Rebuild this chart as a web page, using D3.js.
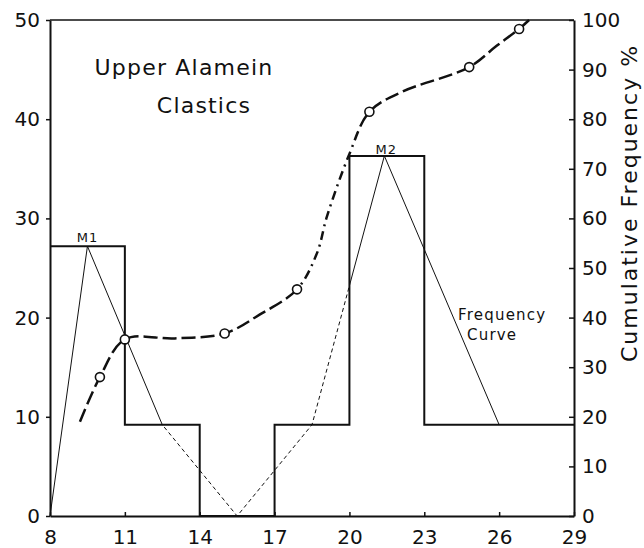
<!DOCTYPE html>
<html>
<head>
<meta charset="utf-8">
<script src="https://cdn.jsdelivr.net/npm/d3@7"></script>
<style>
  body { margin: 0; background: #fff; }
  text { font-family: "DejaVu Sans", sans-serif; fill: #111; }
</style>
</head>
<body>
<div id="chart"></div>
<script>
// histogram classes (left axis, frequency)
var classEdges = [8, 11, 14, 17, 20, 23, 26, 29];
var classFreq = [27.2, 9.2, 0, 9.2, 36.3, 9.2, 9.2];

// frequency curve (polygon through the modes)
var polyX = [8, 9.5, 12.5, 15.5, 18.5, 21.4, 26];
var polyY = [0, 27.2, 9.2, 0, 9.2, 36.3, 9.2];

// cumulative frequency % - traced curve
var cumX = [9.2, 10, 11, 13, 15, 16.4, 17.9, 18.7, 19.1, 20, 20.8, 22.1, 24.8, 25.9, 26.8, 27.2];
var cumY = [19, 28, 35.6, 35.8, 36.8, 40.6, 45.7, 53, 60.4, 73, 81.5, 85.5, 90.5, 94.8, 98.2, 100];

// cumulative frequency % - plotted points
var ptX = [10, 11, 15, 17.9, 20.8, 24.8, 26.8];
var ptY = [28, 35.6, 36.8, 45.7, 81.5, 90.5, 98.2];

var xTicks = [8, 11, 14, 17, 20, 23, 26, 29];
var leftTicks = [0, 10, 20, 30, 40, 50];
var rightTicks = [0, 10, 20, 30, 40, 50, 60, 70, 80, 90, 100];

var W = 644, H = 548;
var margin = {top: 20, right: 70, bottom: 32, left: 50};

var svg = d3.select("#chart").append("svg")
    .attr("width", W)
    .attr("height", H);

var x = d3.scaleLinear().domain([8, 29]).range([margin.left, W - margin.right]);
var y = d3.scaleLinear().domain([0, 50]).range([H - margin.bottom, margin.top]);
var y2 = d3.scaleLinear().domain([0, 100]).range([H - margin.bottom, margin.top]);

// clip regions for the changing line styles
var defs = svg.append("defs");
function clip(id, ranges) {
  var c = defs.append("clipPath").attr("id", id);
  ranges.forEach(function(r) {
    c.append("rect").attr("x", x(r[0])).attr("y", 0)
      .attr("width", x(r[1]) - x(r[0])).attr("height", H);
  });
}
clip("cumSolid", [[7, 17.9], [20.3, 30]]);
clip("cumDot", [[17.9, 20.3]]);
clip("polySolid", [[7, 12.5], [20, 30]]);
clip("polyDot", [[12.5, 20]]);

// top border
svg.append("line")
    .attr("x1", x(8)).attr("x2", x(29))
    .attr("y1", y(50)).attr("y2", y(50))
    .attr("stroke", "#111").attr("stroke-width", 1.5);

// histogram outline
var stepPts = classEdges.map(function(e, i) {
  return [e, i < classFreq.length ? classFreq[i] : classFreq[classFreq.length - 1]];
});
svg.append("path")
    .datum(stepPts)
    .attr("fill", "none")
    .attr("stroke", "#111")
    .attr("stroke-width", 2)
    .attr("d", d3.line().curve(d3.curveStepAfter)
      .x(function(d) { return x(d[0]); })
      .y(function(d) { return y(d[1]); }));

// frequency curve
var polyPts = polyX.map(function(v, i) { return [v, polyY[i]]; });
var polyLine = d3.line()
    .x(function(d) { return x(d[0]); })
    .y(function(d) { return y(d[1]); });
svg.append("path")
    .datum(polyPts)
    .attr("clip-path", "url(#polySolid)")
    .attr("fill", "none").attr("stroke", "#111").attr("stroke-width", 1)
    .attr("d", polyLine);
svg.append("path")
    .datum(polyPts)
    .attr("clip-path", "url(#polyDot)")
    .attr("fill", "none").attr("stroke", "#111").attr("stroke-width", 1)
    .attr("stroke-dasharray", "4,3")
    .attr("d", polyLine);

// cumulative curve
var cumPts = cumX.map(function(v, i) { return [v, cumY[i]]; });
var cumLine = d3.line().curve(d3.curveCatmullRom.alpha(0.5))
    .x(function(d) { return x(d[0]); })
    .y(function(d) { return y2(d[1]); });
svg.append("path")
    .datum(cumPts)
    .attr("clip-path", "url(#cumSolid)")
    .attr("fill", "none").attr("stroke", "#111").attr("stroke-width", 2.5)
    .attr("stroke-dasharray", "14,5")
    .attr("d", cumLine);
svg.append("path")
    .datum(cumPts)
    .attr("clip-path", "url(#cumDot)")
    .attr("fill", "none").attr("stroke", "#111").attr("stroke-width", 2.5)
    .attr("stroke-dasharray", "9,5,2,5")
    .attr("d", cumLine);

svg.append("g")
  .selectAll("circle")
  .data(ptX)
  .enter()
  .append("circle")
    .attr("cx", function(d) { return x(d); })
    .attr("cy", function(d, i) { return y2(ptY[i]); })
    .attr("r", 4.5)
    .attr("fill", "#fff")
    .attr("stroke", "#111")
    .attr("stroke-width", 1.6);

// axes
var xAxis = svg.append("g")
    .attr("transform", "translate(0," + (H - margin.bottom) + ")")
    .call(d3.axisBottom(x).tickValues(xTicks).tickSize(-4).tickSizeOuter(0).tickPadding(14));
var yAxis = svg.append("g")
    .attr("transform", "translate(" + margin.left + ",0)")
    .call(d3.axisLeft(y).tickValues(leftTicks).tickSize(4).tickSizeOuter(0).tickPadding(6));
var yAxis2 = svg.append("g")
    .attr("transform", "translate(" + (W - margin.right) + ",0)")
    .call(d3.axisRight(y2).tickValues(rightTicks).tickSize(-5).tickSizeOuter(0).tickPadding(8));

[xAxis, yAxis, yAxis2].forEach(function(g) {
  g.select(".domain").attr("stroke", "#111").attr("stroke-width", 2);
  g.selectAll(".tick line").attr("stroke", "#111").attr("stroke-width", 1.5);
  g.selectAll(".tick text")
    .style("font-family", "'DejaVu Sans', sans-serif")
    .style("font-size", "20px")
    .attr("fill", "#111");
});

// labels
function label(txt, px, py, size, spacing, anchor) {
  return svg.append("text")
    .attr("x", px).attr("y", py)
    .attr("text-anchor", anchor || "middle")
    .style("font-size", size + "px")
    .style("letter-spacing", spacing + "px")
    .text(txt);
}
label("Upper Alamein", 184, 75, 22, 1.2);
label("Clastics", 204, 113, 22, 1.2);
label("M1", x(9.5), 242, 13, 1);
label("M2", x(21.4) + 2, 154, 13, 1);
label("Frequency", 458, 320, 15, 1.2, "start");
label("Curve", 467, 340, 15, 1.2, "start");

svg.append("text")
    .attr("transform", "translate(637," + 203 + ") rotate(-90)")
    .attr("text-anchor", "middle")
    .style("font-size", "22px")
    .style("letter-spacing", "2px")
    .text("Cumulative Frequency %");
</script>
</body>
</html>
